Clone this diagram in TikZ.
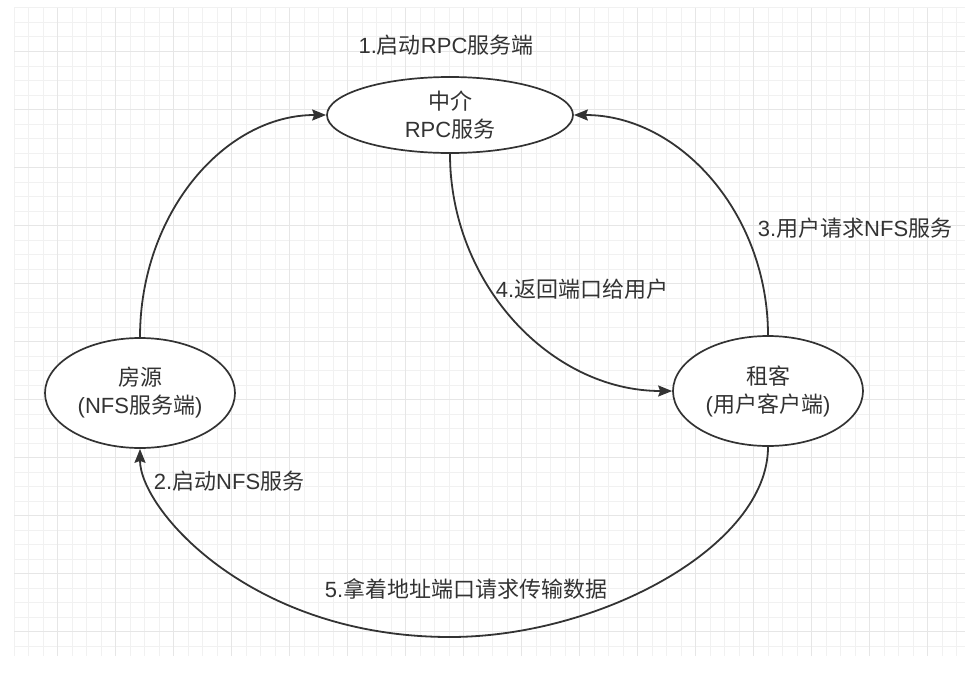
\documentclass[tikz,border=0pt]{standalone}
\usepackage{fontspec}
\setmainfont{Liberation Sans}
\newfontfamily\cjk{Noto Sans CJK SC}
\usetikzlibrary{shapes.geometric,arrows.meta}
\definecolor{inkgray}{HTML}{333333}
\definecolor{gridminor}{HTML}{F1F1F1}
\definecolor{gridmajor}{HTML}{E6E6E6}
\tikzset{
  party/.style={draw=inkgray, line width=1.7pt, ellipse, fill=white, inner sep=0pt,
    minimum width=190pt, minimum height=110pt, align=center, text=inkgray,
    font=\fontsize{22}{28}\selectfont},
  flow/.style={draw=inkgray, line width=1.8pt, -{Stealth[length=14pt,width=11pt,inset=2pt]}},
  lbl/.style={text=inkgray, inner sep=0pt, font=\fontsize{22}{28}\selectfont},
  minorline/.style={draw=gridminor, line width=1pt},
  majorline/.style={draw=gridmajor, line width=1pt},
}

\begin{document}
\begin{tikzpicture}[x=1pt, y=-1pt]
        \useasboundingbox (0,0) rectangle (965,677);
        \begin{scope}
            \clip (14,8) rectangle (965,656);
            \foreach \gx in {0,...,65} \draw[minorline] ({14+14.5*\gx},8) -- ++(0,648);
            \foreach \gy in {0,...,44} \draw[minorline] (14,{8+14.5*\gy}) -- ++(951,0);
            \foreach \gx in {0,...,15} \draw[majorline] ({57.5+58*\gx},8) -- ++(0,648);
            \foreach \gy in {0,...,10} \draw[majorline] (14,{51.5+58*\gy}) -- ++(951,0);
        \end{scope}

        \node[party, minimum width=246pt, minimum height=76pt] (rpc) at (450,115) {{\cjk 中介}\\RPC{\cjk 服务}} ;
        \node[party] (house) at (140,393) {{\cjk 房源}\\(NFS{\cjk 服务端})} ;
        \node[party] (tenant) at (768,391) {{\cjk 租客}\\({\cjk 用户客户端})} ;
        \coordinate (low) at (450,637) ;

        \node[lbl] (l1) at (446,45) {1.{\cjk 启动}RPC{\cjk 服务端}} ;
        \node[lbl] (l2) at (229,481) {2.{\cjk 启动}NFS{\cjk 服务}} ;
        \node[lbl] (l3) at (855,228) {3.{\cjk 用户请求}NFS{\cjk 服务}} ;
        \node[lbl] (l4) at (582,289) {4.{\cjk 返回端口给用户}} ;
        \node[lbl] (l5) at (466,589) {5.{\cjk 拿着地址端口请求传输数据}} ;

        \draw[flow] (house.north) .. controls (140,214) and (224,115) .. (rpc.west) ;
        \draw[flow] (rpc.south) .. controls (450,284) and (551,391) .. (tenant.west) ;
        \draw[flow] (tenant.north) .. controls (768,214) and (680,115) .. (rpc.east) ;
        \draw[flow] (tenant.south) .. controls (768,546) and (600,637) .. (low)
            .. controls (250,637) and (140,509) .. (house.south) ;
    \end{tikzpicture}
\end{document}
